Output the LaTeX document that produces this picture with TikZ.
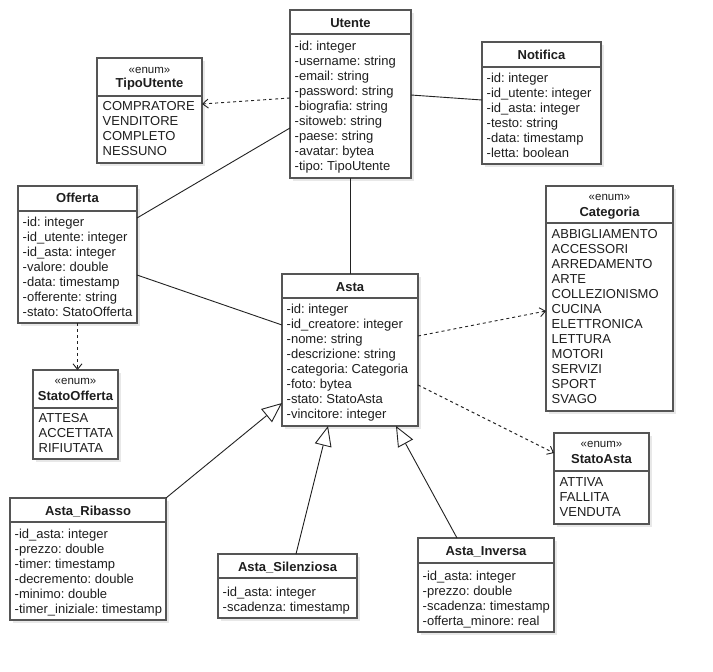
\documentclass[tikz,border=0pt]{standalone}
\usepackage{fontspec}
\setmainfont{Liberation Sans}
\usetikzlibrary{arrows.meta,calc}
\definecolor{boxc}{HTML}{555555}
\definecolor{txtc}{HTML}{1E1E1E}
\definecolor{shc}{HTML}{E8E8E8}
\definecolor{linec}{HTML}{222222}
\tikzset{
  classbox/.style={draw=boxc, fill=white, line width=1.3pt, inner sep=0pt, outer sep=0pt},
  attr/.style={font=\fontsize{13}{15}\selectfont, inner sep=0pt, text=txtc},
  hdr/.style={font=\bfseries\fontsize{13}{15}\selectfont, inner sep=0pt, text=txtc},
  ster/.style={font=\fontsize{11.5}{13}\selectfont, inner sep=0pt, text=txtc},
  assoc/.style={draw=linec, line width=0.9pt},
  dep/.style={draw=linec, line width=0.9pt, dash pattern=on 3pt off 3pt, -{Straight Barb[length=5.5pt,width=9pt]}},
  gen/.style={draw=linec, line width=0.9pt, -{Triangle[open, length=20pt, width=17pt, fill=white]}}
}
% #1 name, #2 left, #3 top, #4 right, #5 bottom, #6 header line y
\newcommand\umlbox[6]{%
  \fill[shc] (#2+3,#3+3) rectangle (#4+3,#5+3);
  \node[classbox, anchor=north west, minimum width={(#4)-(#2)}, minimum height={(#5)-(#3)}] (#1) at (#2,#3) {};
  \draw[boxc, line width=1.3pt] (#2,#6) -- (#4,#6);
}
% #1 prefix, #2 x, #3 first baseline, #4 list
\newcommand\umllines[4]{%
  \foreach \t [count=\k] in {#4} {\node[attr, anchor=base west] (#1-\k) at (#2, #3+15*\k-15) {\t};}
}
\begin{document}
\frenchspacing
\begin{tikzpicture}[x=1pt,y=-1pt]
\fill[white] (0,0) rectangle (713,672);
\useasboundingbox (0,0) rectangle (713,672);

% Utente
\umlbox{utente}{290}{10}{411}{178}{34}
\node[hdr, anchor=base] (utente-h) at (350.5,27.5) {Utente};
\umllines{utente}{294.5}{50.5}{-id: integer,-username: string,-email: string,-password: string,-biografia: string,-sitoweb: string,-paese: string,-avatar: bytea,-tipo: TipoUtente}

% TipoUtente
\umlbox{tipoutente}{97}{58}{202}{163}{96}
\node[ster, anchor=base] (tipoutente-s) at (149.5,73.5) {«enum»};
\node[hdr, anchor=base] (tipoutente-h) at (149.5,87.5) {TipoUtente};
\umllines{tipoutente}{102.5}{110.5}{COMPRATORE,VENDITORE,COMPLETO,NESSUNO}

% Notifica
\umlbox{notifica}{482}{42}{601}{164}{67}
\node[hdr, anchor=base] (notifica-h) at (541.5,59.5) {Notifica};
\umllines{notifica}{486.5}{82.5}{-id: integer,-id\_utente: integer,-id\_asta: integer,-testo: string,-data: timestamp,-letta: boolean}

% Offerta
\umlbox{offerta}{18}{186}{137}{323}{211}
\node[hdr, anchor=base] (offerta-h) at (77.5,202.5) {Offerta};
\umllines{offerta}{22.5}{226.5}{-id: integer,-id\_utente: integer,-id\_asta: integer,-valore: double,-data: timestamp,-offerente: string,-stato: StatoOfferta}

% StatoOfferta
\umlbox{statoofferta}{33}{370}{118}{459}{408}
\node[ster, anchor=base] (statoofferta-s) at (75.5,384.5) {«enum»};
\node[hdr, anchor=base] (statoofferta-h) at (75.5,400.5) {StatoOfferta};
\umllines{statoofferta}{38.5}{422.5}{ATTESA,ACCETTATA,RIFIUTATA}

% Asta
\umlbox{asta}{282}{274}{418}{426}{298}
\node[hdr, anchor=base] (asta-h) at (350,291.5) {Asta};
\umllines{asta}{286.5}{313.5}{-id: integer,-id\_creatore: integer,-nome: string,-descrizione: string,-categoria: Categoria,-foto: bytea,-stato: StatoAsta,-vincitore: integer}

% Categoria
\umlbox{categoria}{546}{186}{673}{411}{223}
\node[ster, anchor=base] (categoria-s) at (609.5,200.5) {«enum»};
\node[hdr, anchor=base] (categoria-h) at (609.5,216.5) {Categoria};
\umllines{categoria}{551.5}{238.5}{ABBIGLIAMENTO,ACCESSORI,ARREDAMENTO,ARTE,COLLEZIONISMO,CUCINA,ELETTRONICA,LETTURA,MOTORI,SERVIZI,SPORT,SVAGO}

% StatoAsta
\umlbox{statoasta}{554}{433}{649}{524}{471}
\node[ster, anchor=base] (statoasta-s) at (601.5,447.5) {«enum»};
\node[hdr, anchor=base] (statoasta-h) at (601.5,463.5) {StatoAsta};
\umllines{statoasta}{559.5}{486.5}{ATTIVA,FALLITA,VENDUTA}

% Asta_Ribasso
\umlbox{ribasso}{10}{498}{166}{620}{522}
\node[hdr, anchor=base] (ribasso-h) at (88,515.5) {Asta\_Ribasso};
\umllines{ribasso}{14.5}{538.5}{-id\_asta: integer,-prezzo: double,-timer: timestamp,-decremento: double,-minimo: double,-timer\_iniziale: timestamp}

% Asta_Silenziosa
\umlbox{silenziosa}{218}{554}{357}{618}{578}
\node[hdr, anchor=base] (silenziosa-h) at (287.5,571.5) {Asta\_Silenziosa};
\umllines{silenziosa}{222.5}{596.5}{-id\_asta: integer,-scadenza: timestamp}

% Asta_Inversa
\umlbox{inversa}{418}{538}{554}{632}{563}
\node[hdr, anchor=base] (inversa-h) at (486,555.5) {Asta\_Inversa};
\umllines{inversa}{422.5}{580.5}{-id\_asta: integer,-prezzo: double,-scadenza: timestamp,-offerta\_minore: real}

% connectors
\draw[dep] ($(utente.north west)+(0,88)$) -- ($(tipoutente.north east)+(0,46)$);
\draw[assoc] ($(utente.north east)+(0,85)$) -- ($(notifica.north west)+(0,58)$);
\draw[assoc] ($(utente.north west)+(0,118)$) -- ($(offerta.north east)+(0,32)$);
\draw[assoc] (utente.south) -- (utente.south |- asta.north);
\draw[assoc] ($(offerta.north east)+(0,89)$) -- ($(asta.north west)+(0,51)$);
\draw[dep] (offerta.south) -- (statoofferta.north -| offerta.south);
\draw[dep] ($(asta.north east)+(0,62)$) -- ($(categoria.north west)+(0,125)$);
\draw[dep] ($(asta.north east)+(0,111)$) -- ($(statoasta.north west)+(0,20)$);
\draw[gen] (ribasso.north east) -- ($(asta.north west)+(0,129)$);
\draw[gen] ($(silenziosa.north west)+(78,0)$) -- ($(asta.south west)+(46,0)$);
\draw[gen] ($(inversa.north west)+(39,0)$) -- ($(asta.south west)+(114,0)$);
\end{tikzpicture}
\end{document}
